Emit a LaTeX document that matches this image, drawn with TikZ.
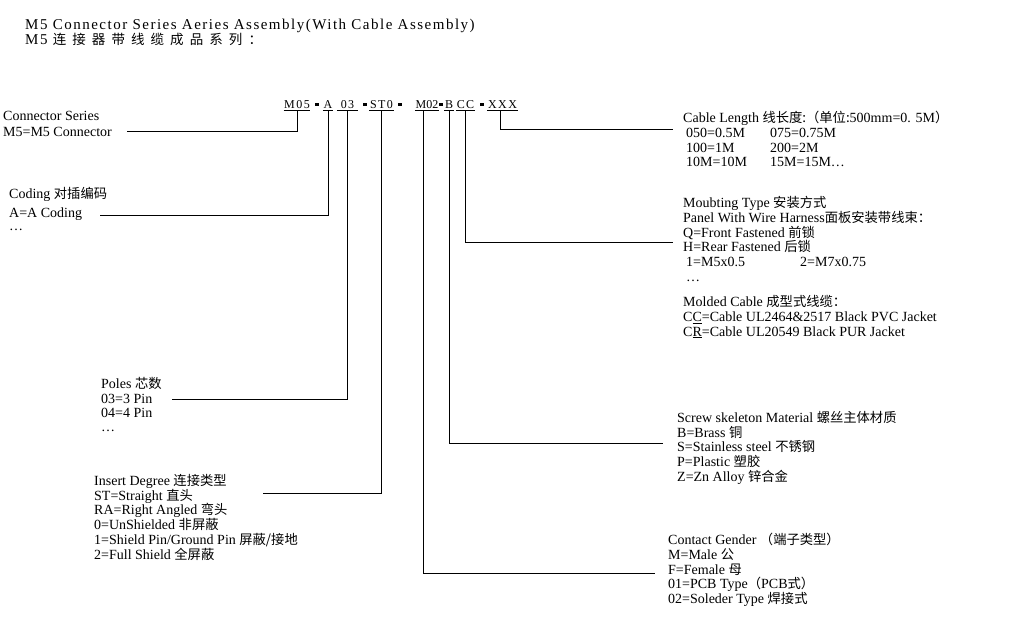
\documentclass[tikz,border=0pt]{standalone}
\usepackage{fontspec}
\setmainfont{Liberation Serif}
\newfontfamily\cjk{Noto Sans CJK SC}
\newfontfamily\cjktitle[LetterSpace=45]{Noto Sans CJK SC}
\newfontfamily\titlefont[LetterSpace=10]{Liberation Serif}
\newfontfamily\codefont[LetterSpace=12]{Liberation Serif}
\newcommand{\zh}[1]{{\cjk\fontsize{13.3pt}{14.8pt}\selectfont #1}}
\usetikzlibrary{positioning}

\tikzset{
  lbl/.style={anchor=north west, yshift=12pt, inner sep=0pt, align=left,
              font=\fontsize{14pt}{14.8pt}\selectfont,
              execute at begin node={\lineskiplimit=-20pt\rule{0pt}{12pt}}},
  codepart/.style={anchor=base, inner xsep=0.5pt, inner ysep=2.5pt,
                   text height=8.5pt, text depth=0pt,
                   font=\codefont\fontsize{12pt}{14pt}\selectfont},
  sepbar/.style={fill, inner sep=0pt, minimum width=4.5pt, minimum height=2.6pt},
  lead/.style={line width=0.9pt},
}

\begin{document}
\begin{tikzpicture}[x=1pt, y=-1pt]
  \useasboundingbox (0,0) rectangle (1016,619);

  % title
  \node (title) [lbl, font=\titlefont\fontsize{15pt}{15.3pt}\selectfont] at (25,30.7)
    {M5 Connector Series Aeries Assembly(With Cable Assembly)\\
     M5 {\cjktitle\fontsize{13.5pt}{15.3pt}\selectfont 连接器带线缆成品系列：}};

  % part number
  \node (m05) [codepart] at (297,108) {M05};
  \node (s1)  [sepbar]   at (317,104.5) {};
  \node (a)   [codepart] at (328,108) {A};
  \node (p03) [codepart, minimum width=21pt] at (347.5,108) {03};
  \node (s2)  [sepbar]   at (365,104.5) {};
  \node (st0) [codepart] at (381.5,108) {ST0};
  \node (s3)  [sepbar]   at (400,104.5) {};
  \node (m02) [codepart, font=\fontsize{12pt}{14pt}\selectfont] at (427,108) {M02};
  \node (s4)  [sepbar]   at (441,104.5) {};
  \node (b)   [codepart] at (449,108) {B};
  \node (cc)  [codepart] at (465.5,108) {CC};
  \node (s5)  [sepbar]   at (482,104.5) {};
  \node (xxx) [codepart] at (502.5,108) {XXX};

  % underlines
  \foreach \p in {m05,a,p03,st0,m02,b,cc,xxx}
    \draw[lead] (\p.south west) -- (\p.south east);

  % left side
  \node (series) [lbl] at (3,123)
    {Connector Series\\[1.5pt] M5=M5 Connector};
  \node (coding) [lbl] at (9,199)
    {Coding \zh{对插编码}\\[4pt] A=A Coding\\[-2pt] \dots};
  \node (poles) [lbl] at (101,389)
    {Poles \zh{芯数}\\ 03=3 Pin\\ 04=4 Pin\\[-1pt] \dots};
  \node (insert) [lbl] at (94,486)
    {Insert Degree \zh{连接类型}\\ ST=Straight \zh{直头}\\ RA=Right Angled \zh{弯头}\\
     0=UnShielded \zh{非屏蔽}\\ 1=Shield Pin/Ground Pin \zh{屏蔽/接地}\\
     2=Full Shield \zh{全屏蔽}};

  % right side
  \node (length) [lbl] at (683,123)
    {Cable Length \zh{线长度:（单位:}500mm=0. 5M\zh{）}\\
     \hspace*{3pt}\makebox[84pt][l]{050=0.5M}075=0.75M\\
     \hspace*{3pt}\makebox[84pt][l]{100=1M}200=2M\\
     \hspace*{3pt}\makebox[84pt][l]{10M=10M}15M=15M\dots};
  \node (mounting) [lbl] at (683,208)
    {Moubting Type \zh{安装方式}\\
     Panel With Wire Harness\zh{面板安装带线束：}\\
     Q=Front Fastened \zh{前锁}\\
     H=Rear Fastened \zh{后锁}\\
     \hspace*{3pt}\makebox[114pt][l]{1=M5x0.5}2=M7x0.75\\
     \hspace*{3pt}\dots};
  \node (molded) [lbl] at (683,307)
    {Molded Cable \zh{成型式线缆：}\\
     C\underline{C}=Cable UL2464\&2517 Black PVC Jacket\\
     C\underline{R}=Cable UL20549 Black PUR Jacket};
  \node (screw) [lbl] at (677,423)
    {Screw skeleton Material \zh{螺丝主体材质}\\ B=Brass \zh{铜}\\
     S=Stainless steel \zh{不锈钢}\\ P=Plastic \zh{塑胶}\\ Z=Zn Alloy \zh{锌合金}};
  \node (gender) [lbl] at (668,545)
    {Contact Gender \zh{（端子类型）}\\ M=Male \zh{公}\\ F=Female \zh{母}\\
     01=PCB Type\zh{（}PCB\zh{式）}\\ 02=Soleder Type \zh{焊接式}};

  % leader ends
  \coordinate (seriesend) at (127,131);
  \coordinate (codingend) at (100,215);
  \coordinate (polesend) at (172,399);
  \coordinate (insertend) at (263,493);
  \coordinate (genderend) at (655,573);
  \coordinate (screwend) at (663,443);
  \coordinate (mountend) at (673,242);
  \coordinate (lengthend) at (673,129);

  % leaders
  \draw[lead] (m05.south) |- (seriesend);
  \draw[lead] (a.south) |- (codingend);
  \draw[lead] (p03.south) |- (polesend);
  \draw[lead] (st0.south) |- (insertend);
  \draw[lead] ([xshift=-4pt]m02.south) |- (genderend);
  \draw[lead] (b.south) |- (screwend);
  \draw[lead] (cc.south) |- (mountend);
  \draw[lead] ([xshift=-2.5pt]xxx.south) |- (lengthend);
\end{tikzpicture}
\end{document}
